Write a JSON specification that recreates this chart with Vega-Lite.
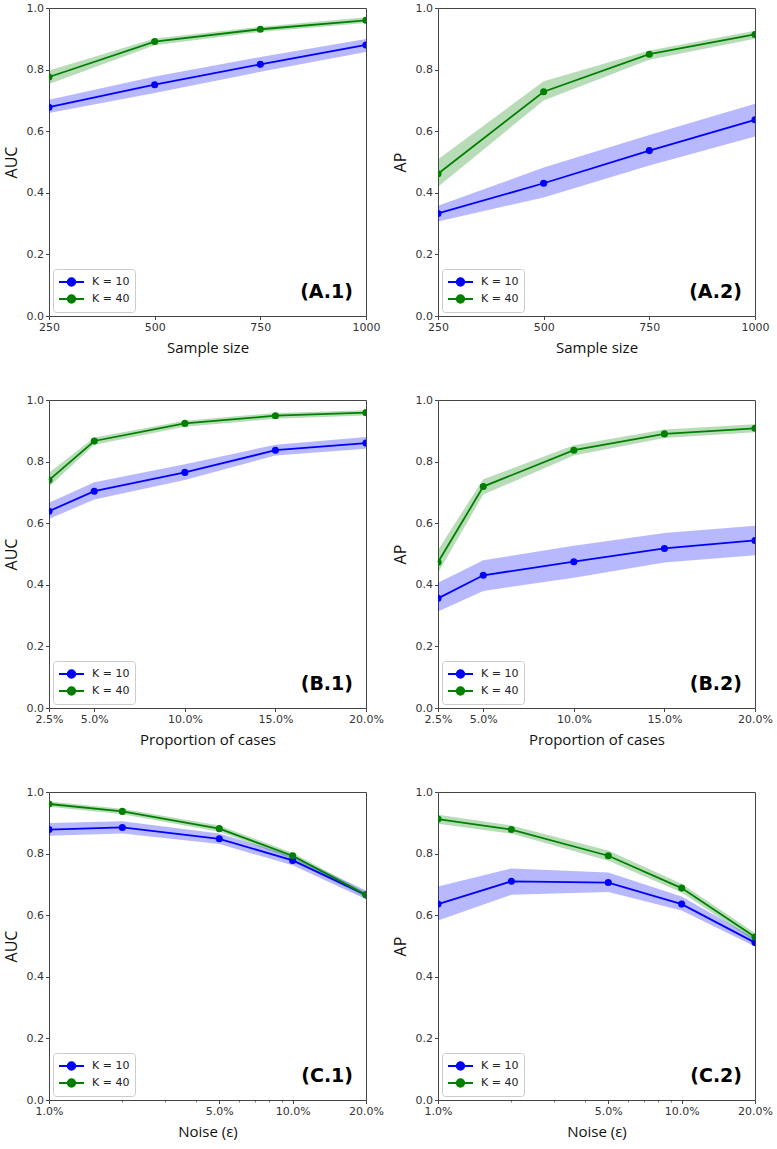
{
  "$schema": "https://vega.github.io/schema/vega-lite/v6.json",
  "background": "white",
  "padding": {"left": 2, "top": 1, "right": 2, "bottom": 2},
  "columns": 2,
  "spacing": {"row": 84, "column": 72},
  "bounds": "flush",
  "resolve": {"scale": {"color": "independent", "x": "independent", "y": "independent"}, "legend": {"color": "independent"}},
  "config": {
    "view": {"stroke": "#444", "strokeWidth": 1},
    "axis": {"domain": false, "grid": false, "tickColor": "#444", "tickSize": 3.5, "tickWidth": 1, "labelFont": "DejaVu Sans", "labelFontSize": 11, "labelColor": "#333", "labelPadding": 2, "labelFlush": false, "labelOverlap": false, "titleFont": "Open Sans", "titleFontWeight": "normal", "titleColor": "#111"},
    "axisY": {"titleFontSize": 16, "titlePadding": 7},
    "axisX": {"titleFontSize": 15, "titlePadding": 8},
    "legend": {"orient": "bottom-left", "offset": 4, "padding": 5, "fillColor": "white", "strokeColor": "#cccccc", "cornerRadius": 3, "labelFont": "DejaVu Sans", "labelFontSize": 11, "labelColor": "#222", "labelOffset": 18, "rowPadding": 1, "symbolSize": 196, "symbolStrokeWidth": 2, "symbolType": "M-1,0L2.57,0M0.255,0C0.255,-0.293,0.492,-0.53,0.785,-0.53C1.078,-0.53,1.315,-0.293,1.315,0C1.315,0.293,1.078,0.53,0.785,0.53C0.492,0.53,0.255,0.293,0.255,0Z"}
  },
  "datasets": {
    "A1": [
      {"x": 250, "k": "K = 10", "mean": 0.678, "lo": 0.659, "hi": 0.702},
      {"x": 500, "k": "K = 10", "mean": 0.751, "lo": 0.724, "hi": 0.778},
      {"x": 750, "k": "K = 10", "mean": 0.817, "lo": 0.793, "hi": 0.841},
      {"x": 1000, "k": "K = 10", "mean": 0.880, "lo": 0.857, "hi": 0.899},
      {"x": 250, "k": "K = 40", "mean": 0.776, "lo": 0.753, "hi": 0.797},
      {"x": 500, "k": "K = 40", "mean": 0.891, "lo": 0.879, "hi": 0.901},
      {"x": 750, "k": "K = 40", "mean": 0.931, "lo": 0.922, "hi": 0.939},
      {"x": 1000, "k": "K = 40", "mean": 0.960, "lo": 0.951, "hi": 0.970}
    ],
    "A2": [
      {"x": 250, "k": "K = 10", "mean": 0.333, "lo": 0.307, "hi": 0.358},
      {"x": 500, "k": "K = 10", "mean": 0.431, "lo": 0.385, "hi": 0.482},
      {"x": 750, "k": "K = 10", "mean": 0.537, "lo": 0.489, "hi": 0.588},
      {"x": 1000, "k": "K = 10", "mean": 0.637, "lo": 0.583, "hi": 0.689},
      {"x": 250, "k": "K = 40", "mean": 0.462, "lo": 0.420, "hi": 0.509},
      {"x": 500, "k": "K = 40", "mean": 0.728, "lo": 0.700, "hi": 0.762},
      {"x": 750, "k": "K = 40", "mean": 0.850, "lo": 0.832, "hi": 0.862},
      {"x": 1000, "k": "K = 40", "mean": 0.914, "lo": 0.900, "hi": 0.926}
    ],
    "B1": [
      {"x": 0.025, "k": "K = 10", "mean": 0.639, "lo": 0.614, "hi": 0.666},
      {"x": 0.05, "k": "K = 10", "mean": 0.704, "lo": 0.677, "hi": 0.733},
      {"x": 0.1, "k": "K = 10", "mean": 0.765, "lo": 0.740, "hi": 0.791},
      {"x": 0.15, "k": "K = 10", "mean": 0.837, "lo": 0.820, "hi": 0.855},
      {"x": 0.2, "k": "K = 10", "mean": 0.860, "lo": 0.842, "hi": 0.880},
      {"x": 0.025, "k": "K = 40", "mean": 0.740, "lo": 0.718, "hi": 0.764},
      {"x": 0.05, "k": "K = 40", "mean": 0.867, "lo": 0.855, "hi": 0.878},
      {"x": 0.1, "k": "K = 40", "mean": 0.924, "lo": 0.913, "hi": 0.933},
      {"x": 0.15, "k": "K = 40", "mean": 0.949, "lo": 0.939, "hi": 0.958},
      {"x": 0.2, "k": "K = 40", "mean": 0.959, "lo": 0.950, "hi": 0.967}
    ],
    "B2": [
      {"x": 0.025, "k": "K = 10", "mean": 0.356, "lo": 0.313, "hi": 0.407},
      {"x": 0.05, "k": "K = 10", "mean": 0.431, "lo": 0.380, "hi": 0.480},
      {"x": 0.1, "k": "K = 10", "mean": 0.475, "lo": 0.423, "hi": 0.527},
      {"x": 0.15, "k": "K = 10", "mean": 0.518, "lo": 0.472, "hi": 0.568},
      {"x": 0.2, "k": "K = 10", "mean": 0.544, "lo": 0.496, "hi": 0.592},
      {"x": 0.025, "k": "K = 40", "mean": 0.473, "lo": 0.439, "hi": 0.513},
      {"x": 0.05, "k": "K = 40", "mean": 0.719, "lo": 0.693, "hi": 0.743},
      {"x": 0.1, "k": "K = 40", "mean": 0.837, "lo": 0.820, "hi": 0.853},
      {"x": 0.15, "k": "K = 40", "mean": 0.890, "lo": 0.877, "hi": 0.904},
      {"x": 0.2, "k": "K = 40", "mean": 0.908, "lo": 0.895, "hi": 0.921}
    ],
    "C1": [
      {"x": 0.01, "k": "K = 10", "mean": 0.878, "lo": 0.858, "hi": 0.899},
      {"x": 0.02, "k": "K = 10", "mean": 0.885, "lo": 0.865, "hi": 0.905},
      {"x": 0.05, "k": "K = 10", "mean": 0.848, "lo": 0.831, "hi": 0.865},
      {"x": 0.1, "k": "K = 10", "mean": 0.778, "lo": 0.762, "hi": 0.793},
      {"x": 0.2, "k": "K = 10", "mean": 0.666, "lo": 0.652, "hi": 0.680},
      {"x": 0.01, "k": "K = 40", "mean": 0.961, "lo": 0.952, "hi": 0.969},
      {"x": 0.02, "k": "K = 40", "mean": 0.937, "lo": 0.928, "hi": 0.946},
      {"x": 0.05, "k": "K = 40", "mean": 0.881, "lo": 0.871, "hi": 0.891},
      {"x": 0.1, "k": "K = 40", "mean": 0.793, "lo": 0.782, "hi": 0.803},
      {"x": 0.2, "k": "K = 40", "mean": 0.666, "lo": 0.657, "hi": 0.674}
    ],
    "C2": [
      {"x": 0.01, "k": "K = 10", "mean": 0.636, "lo": 0.583, "hi": 0.693},
      {"x": 0.02, "k": "K = 10", "mean": 0.710, "lo": 0.666, "hi": 0.752},
      {"x": 0.05, "k": "K = 10", "mean": 0.706, "lo": 0.675, "hi": 0.739},
      {"x": 0.1, "k": "K = 10", "mean": 0.636, "lo": 0.615, "hi": 0.661},
      {"x": 0.2, "k": "K = 10", "mean": 0.511, "lo": 0.498, "hi": 0.525},
      {"x": 0.01, "k": "K = 40", "mean": 0.912, "lo": 0.897, "hi": 0.926},
      {"x": 0.02, "k": "K = 40", "mean": 0.878, "lo": 0.865, "hi": 0.891},
      {"x": 0.05, "k": "K = 40", "mean": 0.793, "lo": 0.777, "hi": 0.810},
      {"x": 0.1, "k": "K = 40", "mean": 0.688, "lo": 0.674, "hi": 0.702},
      {"x": 0.2, "k": "K = 40", "mean": 0.529, "lo": 0.515, "hi": 0.542}
    ]
  },
  "concat": [
    {
      "width": 317, "height": 308,
      "layer": [
        {"data": {"name": "A1"}, "mark": {"type": "area", "opacity": 0.28},
         "encoding": {"x": {"field": "x", "type": "quantitative", "scale": {"domain": [250, 1000], "nice": false, "zero": false}, "axis": {"values": [250, 500, 750, 1000], "format": "d", "title": "Sample size"}},
                      "y": {"field": "lo", "type": "quantitative", "scale": {"domain": [0, 1], "nice": false}, "axis": {"values": [0, 0.2, 0.4, 0.6, 0.8, 1], "format": ".1f", "title": "AUC"}}, "y2": {"field": "hi"},
                      "fill": {"field": "k", "type": "nominal", "scale": {"domain": ["K = 10", "K = 40"], "range": ["#0000ff", "#008000"]}, "legend": null}}},
        {"data": {"name": "A1"}, "mark": {"type": "line", "strokeWidth": 1.8},
         "encoding": {"x": {"field": "x", "type": "quantitative"}, "y": {"field": "mean", "type": "quantitative"},
                      "color": {"field": "k", "type": "nominal", "scale": {"domain": ["K = 10", "K = 40"], "range": ["#0000ff", "#008000"]}, "legend": {"title": null, "encode": {"symbols": {"update": {"fill": {"signal": "datum.value === 'K = 10' ? '#0000ff' : '#008000'"}, "stroke": {"signal": "datum.value === 'K = 10' ? '#0000ff' : '#008000'"}}}}}}}},
        {"data": {"name": "A1"}, "mark": {"type": "point", "filled": true, "size": 50, "opacity": 1, "clip": true},
         "encoding": {"x": {"field": "x", "type": "quantitative"}, "y": {"field": "mean", "type": "quantitative"},
                      "fill": {"field": "k", "type": "nominal", "legend": null}}},
        {"data": {"values": [{"label": "(A.1)"}]}, "mark": {"type": "text", "font": "DejaVu Sans", "fontWeight": "bold", "fontSize": 19, "align": "right", "baseline": "alphabetic", "dx": -13, "fill": "#000"},
         "encoding": {"x": {"datum": 1000, "type": "quantitative"}, "y": {"datum": 0.06, "type": "quantitative"}, "text": {"field": "label"}}}
      ]
    },
    {
      "width": 317, "height": 308,
      "layer": [
        {"data": {"name": "A2"}, "mark": {"type": "area", "opacity": 0.28},
         "encoding": {"x": {"field": "x", "type": "quantitative", "scale": {"domain": [250, 1000], "nice": false, "zero": false}, "axis": {"values": [250, 500, 750, 1000], "format": "d", "title": "Sample size"}},
                      "y": {"field": "lo", "type": "quantitative", "scale": {"domain": [0, 1], "nice": false}, "axis": {"values": [0, 0.2, 0.4, 0.6, 0.8, 1], "format": ".1f", "title": "AP"}}, "y2": {"field": "hi"},
                      "fill": {"field": "k", "type": "nominal", "scale": {"domain": ["K = 10", "K = 40"], "range": ["#0000ff", "#008000"]}, "legend": null}}},
        {"data": {"name": "A2"}, "mark": {"type": "line", "strokeWidth": 1.8},
         "encoding": {"x": {"field": "x", "type": "quantitative"}, "y": {"field": "mean", "type": "quantitative"},
                      "color": {"field": "k", "type": "nominal", "scale": {"domain": ["K = 10", "K = 40"], "range": ["#0000ff", "#008000"]}, "legend": {"title": null, "encode": {"symbols": {"update": {"fill": {"signal": "datum.value === 'K = 10' ? '#0000ff' : '#008000'"}, "stroke": {"signal": "datum.value === 'K = 10' ? '#0000ff' : '#008000'"}}}}}}}},
        {"data": {"name": "A2"}, "mark": {"type": "point", "filled": true, "size": 50, "opacity": 1, "clip": true},
         "encoding": {"x": {"field": "x", "type": "quantitative"}, "y": {"field": "mean", "type": "quantitative"},
                      "fill": {"field": "k", "type": "nominal", "legend": null}}},
        {"data": {"values": [{"label": "(A.2)"}]}, "mark": {"type": "text", "font": "DejaVu Sans", "fontWeight": "bold", "fontSize": 19, "align": "right", "baseline": "alphabetic", "dx": -13, "fill": "#000"},
         "encoding": {"x": {"datum": 1000, "type": "quantitative"}, "y": {"datum": 0.06, "type": "quantitative"}, "text": {"field": "label"}}}
      ]
    },
    {
      "width": 317, "height": 308,
      "layer": [
        {"data": {"name": "B1"}, "mark": {"type": "area", "opacity": 0.28},
         "encoding": {"x": {"field": "x", "type": "quantitative", "scale": {"domain": [0.025, 0.2], "nice": false, "zero": false}, "axis": {"values": [0.025, 0.05, 0.1, 0.15, 0.2], "format": ".1%", "title": "Proportion of cases"}},
                      "y": {"field": "lo", "type": "quantitative", "scale": {"domain": [0, 1], "nice": false}, "axis": {"values": [0, 0.2, 0.4, 0.6, 0.8, 1], "format": ".1f", "title": "AUC"}}, "y2": {"field": "hi"},
                      "fill": {"field": "k", "type": "nominal", "scale": {"domain": ["K = 10", "K = 40"], "range": ["#0000ff", "#008000"]}, "legend": null}}},
        {"data": {"name": "B1"}, "mark": {"type": "line", "strokeWidth": 1.8},
         "encoding": {"x": {"field": "x", "type": "quantitative"}, "y": {"field": "mean", "type": "quantitative"},
                      "color": {"field": "k", "type": "nominal", "scale": {"domain": ["K = 10", "K = 40"], "range": ["#0000ff", "#008000"]}, "legend": {"title": null, "encode": {"symbols": {"update": {"fill": {"signal": "datum.value === 'K = 10' ? '#0000ff' : '#008000'"}, "stroke": {"signal": "datum.value === 'K = 10' ? '#0000ff' : '#008000'"}}}}}}}},
        {"data": {"name": "B1"}, "mark": {"type": "point", "filled": true, "size": 50, "opacity": 1, "clip": true},
         "encoding": {"x": {"field": "x", "type": "quantitative"}, "y": {"field": "mean", "type": "quantitative"},
                      "fill": {"field": "k", "type": "nominal", "legend": null}}},
        {"data": {"values": [{"label": "(B.1)"}]}, "mark": {"type": "text", "font": "DejaVu Sans", "fontWeight": "bold", "fontSize": 19, "align": "right", "baseline": "alphabetic", "dx": -13, "fill": "#000"},
         "encoding": {"x": {"datum": 0.2, "type": "quantitative"}, "y": {"datum": 0.06, "type": "quantitative"}, "text": {"field": "label"}}}
      ]
    },
    {
      "width": 317, "height": 308,
      "layer": [
        {"data": {"name": "B2"}, "mark": {"type": "area", "opacity": 0.28},
         "encoding": {"x": {"field": "x", "type": "quantitative", "scale": {"domain": [0.025, 0.2], "nice": false, "zero": false}, "axis": {"values": [0.025, 0.05, 0.1, 0.15, 0.2], "format": ".1%", "title": "Proportion of cases"}},
                      "y": {"field": "lo", "type": "quantitative", "scale": {"domain": [0, 1], "nice": false}, "axis": {"values": [0, 0.2, 0.4, 0.6, 0.8, 1], "format": ".1f", "title": "AP"}}, "y2": {"field": "hi"},
                      "fill": {"field": "k", "type": "nominal", "scale": {"domain": ["K = 10", "K = 40"], "range": ["#0000ff", "#008000"]}, "legend": null}}},
        {"data": {"name": "B2"}, "mark": {"type": "line", "strokeWidth": 1.8},
         "encoding": {"x": {"field": "x", "type": "quantitative"}, "y": {"field": "mean", "type": "quantitative"},
                      "color": {"field": "k", "type": "nominal", "scale": {"domain": ["K = 10", "K = 40"], "range": ["#0000ff", "#008000"]}, "legend": {"title": null, "encode": {"symbols": {"update": {"fill": {"signal": "datum.value === 'K = 10' ? '#0000ff' : '#008000'"}, "stroke": {"signal": "datum.value === 'K = 10' ? '#0000ff' : '#008000'"}}}}}}}},
        {"data": {"name": "B2"}, "mark": {"type": "point", "filled": true, "size": 50, "opacity": 1, "clip": true},
         "encoding": {"x": {"field": "x", "type": "quantitative"}, "y": {"field": "mean", "type": "quantitative"},
                      "fill": {"field": "k", "type": "nominal", "legend": null}}},
        {"data": {"values": [{"label": "(B.2)"}]}, "mark": {"type": "text", "font": "DejaVu Sans", "fontWeight": "bold", "fontSize": 19, "align": "right", "baseline": "alphabetic", "dx": -13, "fill": "#000"},
         "encoding": {"x": {"datum": 0.2, "type": "quantitative"}, "y": {"datum": 0.06, "type": "quantitative"}, "text": {"field": "label"}}}
      ]
    },
    {
      "width": 317, "height": 308,
      "layer": [
        {"data": {"name": "C1"}, "mark": {"type": "area", "opacity": 0.28},
         "encoding": {"x": {"field": "x", "type": "quantitative", "scale": {"type": "log", "domain": [0.01, 0.2], "nice": false}, "axis": {"values": [0.01, 0.02, 0.03, 0.04, 0.05, 0.06, 0.07, 0.08, 0.09, 0.1, 0.2], "labelExpr": "indexof([0.01, 0.05, 0.1, 0.2], datum.value) >= 0 ? format(datum.value, '.1%') : ''", "tickSize": {"condition": {"test": "indexof([0.01, 0.05, 0.1, 0.2], datum.value) >= 0", "value": 3.5}, "value": 2}, "tickWidth": {"condition": {"test": "indexof([0.01, 0.05, 0.1, 0.2], datum.value) >= 0", "value": 1}, "value": 0.7}, "title": "Noise (ε)"}},
                      "y": {"field": "lo", "type": "quantitative", "scale": {"domain": [0, 1], "nice": false}, "axis": {"values": [0, 0.2, 0.4, 0.6, 0.8, 1], "format": ".1f", "title": "AUC"}}, "y2": {"field": "hi"},
                      "fill": {"field": "k", "type": "nominal", "scale": {"domain": ["K = 10", "K = 40"], "range": ["#0000ff", "#008000"]}, "legend": null}}},
        {"data": {"name": "C1"}, "mark": {"type": "line", "strokeWidth": 1.8},
         "encoding": {"x": {"field": "x", "type": "quantitative"}, "y": {"field": "mean", "type": "quantitative"},
                      "color": {"field": "k", "type": "nominal", "scale": {"domain": ["K = 10", "K = 40"], "range": ["#0000ff", "#008000"]}, "legend": {"title": null, "encode": {"symbols": {"update": {"fill": {"signal": "datum.value === 'K = 10' ? '#0000ff' : '#008000'"}, "stroke": {"signal": "datum.value === 'K = 10' ? '#0000ff' : '#008000'"}}}}}}}},
        {"data": {"name": "C1"}, "mark": {"type": "point", "filled": true, "size": 50, "opacity": 1, "clip": true},
         "encoding": {"x": {"field": "x", "type": "quantitative"}, "y": {"field": "mean", "type": "quantitative"},
                      "fill": {"field": "k", "type": "nominal", "legend": null}}},
        {"data": {"values": [{"label": "(C.1)"}]}, "mark": {"type": "text", "font": "DejaVu Sans", "fontWeight": "bold", "fontSize": 19, "align": "right", "baseline": "alphabetic", "dx": -13, "fill": "#000"},
         "encoding": {"x": {"datum": 0.2, "type": "quantitative"}, "y": {"datum": 0.06, "type": "quantitative"}, "text": {"field": "label"}}}
      ]
    },
    {
      "width": 317, "height": 308,
      "layer": [
        {"data": {"name": "C2"}, "mark": {"type": "area", "opacity": 0.28},
         "encoding": {"x": {"field": "x", "type": "quantitative", "scale": {"type": "log", "domain": [0.01, 0.2], "nice": false}, "axis": {"values": [0.01, 0.02, 0.03, 0.04, 0.05, 0.06, 0.07, 0.08, 0.09, 0.1, 0.2], "labelExpr": "indexof([0.01, 0.05, 0.1, 0.2], datum.value) >= 0 ? format(datum.value, '.1%') : ''", "tickSize": {"condition": {"test": "indexof([0.01, 0.05, 0.1, 0.2], datum.value) >= 0", "value": 3.5}, "value": 2}, "tickWidth": {"condition": {"test": "indexof([0.01, 0.05, 0.1, 0.2], datum.value) >= 0", "value": 1}, "value": 0.7}, "title": "Noise (ε)"}},
                      "y": {"field": "lo", "type": "quantitative", "scale": {"domain": [0, 1], "nice": false}, "axis": {"values": [0, 0.2, 0.4, 0.6, 0.8, 1], "format": ".1f", "title": "AP"}}, "y2": {"field": "hi"},
                      "fill": {"field": "k", "type": "nominal", "scale": {"domain": ["K = 10", "K = 40"], "range": ["#0000ff", "#008000"]}, "legend": null}}},
        {"data": {"name": "C2"}, "mark": {"type": "line", "strokeWidth": 1.8},
         "encoding": {"x": {"field": "x", "type": "quantitative"}, "y": {"field": "mean", "type": "quantitative"},
                      "color": {"field": "k", "type": "nominal", "scale": {"domain": ["K = 10", "K = 40"], "range": ["#0000ff", "#008000"]}, "legend": {"title": null, "encode": {"symbols": {"update": {"fill": {"signal": "datum.value === 'K = 10' ? '#0000ff' : '#008000'"}, "stroke": {"signal": "datum.value === 'K = 10' ? '#0000ff' : '#008000'"}}}}}}}},
        {"data": {"name": "C2"}, "mark": {"type": "point", "filled": true, "size": 50, "opacity": 1, "clip": true},
         "encoding": {"x": {"field": "x", "type": "quantitative"}, "y": {"field": "mean", "type": "quantitative"},
                      "fill": {"field": "k", "type": "nominal", "legend": null}}},
        {"data": {"values": [{"label": "(C.2)"}]}, "mark": {"type": "text", "font": "DejaVu Sans", "fontWeight": "bold", "fontSize": 19, "align": "right", "baseline": "alphabetic", "dx": -13, "fill": "#000"},
         "encoding": {"x": {"datum": 0.2, "type": "quantitative"}, "y": {"datum": 0.06, "type": "quantitative"}, "text": {"field": "label"}}}
      ]
    }
  ]
}
